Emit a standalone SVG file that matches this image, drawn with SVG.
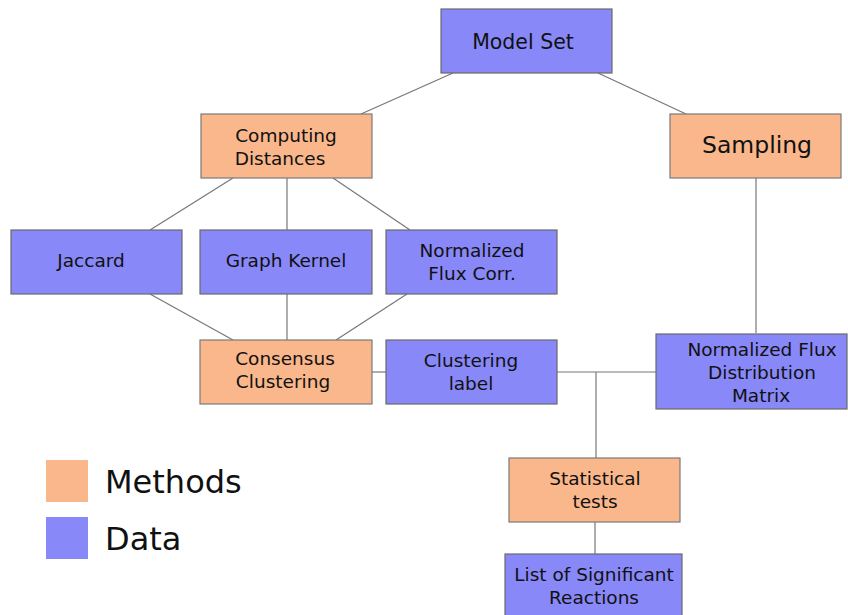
<svg xmlns="http://www.w3.org/2000/svg" width="848" height="615" viewBox="0 0 848 615">
  <style>
    .method { fill: #f9b78b; stroke: #7a7a7a; stroke-width: 1.2; }
    .data { fill: #8888f8; stroke: #6a6a6a; stroke-width: 1.2; }
    .label { font-family: "DejaVu Sans", "Liberation Sans", sans-serif; font-size: 18.5px; fill: #111; text-anchor: middle; }
    .title { font-size: 20.5px; }
    .big { font-size: 23.5px; }
    .legend { font-family: "DejaVu Sans", "Liberation Sans", sans-serif; font-size: 32px; fill: #111; }
    .edge { stroke: #777; stroke-width: 1.2; fill: none; }
  </style>
  <rect width="848" height="615" fill="#ffffff"/>

  <!-- connectors -->
  <g id="connectors">
    <line class="edge" x1="453" y1="73" x2="361" y2="114"/>
    <line class="edge" x1="598" y1="73" x2="686" y2="114"/>
    <line class="edge" x1="233" y1="178" x2="150" y2="230"/>
    <line class="edge" x1="287" y1="178" x2="287" y2="230"/>
    <line class="edge" x1="333" y1="178" x2="410" y2="230"/>
    <line class="edge" x1="150" y1="294" x2="233" y2="340"/>
    <line class="edge" x1="287" y1="294" x2="287" y2="340"/>
    <line class="edge" x1="407" y1="294" x2="336" y2="340"/>
    <line class="edge" x1="372" y1="372" x2="386" y2="372"/>
    <line class="edge" x1="557" y1="372" x2="656" y2="372"/>
    <line class="edge" x1="596" y1="372" x2="596" y2="458"/>
    <line class="edge" x1="595" y1="522" x2="595" y2="554"/>
    <line class="edge" x1="756" y1="178" x2="756" y2="333"/>
  </g>

  <g id="model-set">
    <rect class="data" x="441" y="9" width="171" height="64"/>
    <text class="label title" x="523" y="49">Model Set</text>
  </g>
  <g id="computing-distances">
    <rect class="method" x="201" y="114" width="171" height="64"/>
    <text class="label" x="286" y="142">Computing</text>
    <text class="label" x="280" y="165">Distances</text>
  </g>
  <g id="sampling">
    <rect class="method" x="670" y="114" width="171" height="64"/>
    <text class="label big" x="757" y="153">Sampling</text>
  </g>
  <g id="jaccard">
    <rect class="data" x="11" y="230" width="171" height="64"/>
    <text class="label" x="91" y="267">Jaccard</text>
  </g>
  <g id="graph-kernel">
    <rect class="data" x="200" y="230" width="172" height="64"/>
    <text class="label" x="286" y="267">Graph Kernel</text>
  </g>
  <g id="normalized-flux-corr">
    <rect class="data" x="386" y="230" width="171" height="64"/>
    <text class="label" x="472" y="257">Normalized</text>
    <text class="label" x="472" y="280">Flux Corr.</text>
  </g>
  <g id="consensus-clustering">
    <rect class="method" x="200" y="340" width="172" height="64"/>
    <text class="label" x="285" y="365">Consensus</text>
    <text class="label" x="283" y="388">Clustering</text>
  </g>
  <g id="clustering-label">
    <rect class="data" x="386" y="340" width="171" height="64"/>
    <text class="label" x="471" y="367">Clustering</text>
    <text class="label" x="471" y="390">label</text>
  </g>
  <g id="flux-distribution-matrix">
    <rect class="data" x="656" y="334" width="191" height="75"/>
    <text class="label" x="762" y="356">Normalized Flux</text>
    <text class="label" x="762" y="379">Distribution</text>
    <text class="label" x="761" y="402">Matrix</text>
  </g>
  <g id="statistical-tests">
    <rect class="method" x="509" y="458" width="171" height="64"/>
    <text class="label" x="595" y="485">Statistical</text>
    <text class="label" x="595" y="508">tests</text>
  </g>
  <g id="significant-reactions">
    <rect class="data" x="505" y="554" width="177" height="70"/>
    <text class="label" x="594" y="581">List of Significant</text>
    <text class="label" x="594" y="604">Reactions</text>
  </g>

  <g id="legend">
    <rect x="46" y="460" width="42" height="42" fill="#f9b78b"/>
    <text class="legend" x="105" y="493">Methods</text>
    <rect x="46" y="517" width="42" height="42" fill="#8888f8"/>
    <text class="legend" x="105" y="550">Data</text>
  </g>
</svg>
